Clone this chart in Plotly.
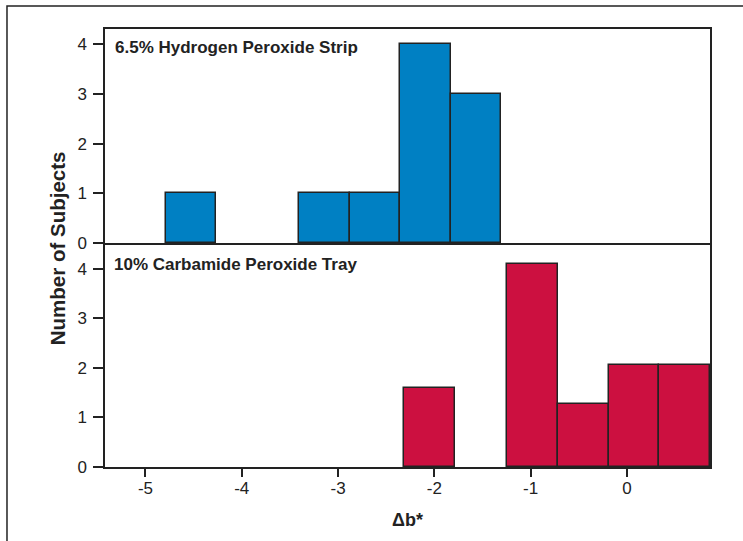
import plotly.graph_objects as go
from plotly.subplots import make_subplots

# Data
strip_left = [-4.79, -3.41, -2.88, -2.36, -1.83]
strip_right = [-4.27, -2.88, -2.36, -1.83, -1.31]
strip_counts = [1, 1, 1, 4, 3]

tray_left = [-2.32, -1.25, -0.72, -0.19, 0.335]
tray_right = [-1.79, -0.72, -0.19, 0.335, 0.862]
tray_counts = [1.6, 4.1, 1.27, 2.06, 2.06]

x_ticks = [-5, -4, -3, -2, -1, 0]
x_tick_labels = ["-5", "-4", "-3", "-2", "-1", "0"]
y_ticks = [0, 1, 2, 3, 4]

label_strip = "6.5% Hydrogen Peroxide Strip"
label_tray = "10% Carbamide Peroxide Tray"

BLUE = "rgb(0,128,195)"
RED = "rgb(204,16,64)"
INK = "#222222"
FONT = "Liberation Sans, Arial, sans-serif"

fig = make_subplots(rows=2, cols=1, shared_xaxes=True, vertical_spacing=0,
                    row_heights=[214, 224])

def add_bars(left, right, counts, color, row):
    centers = [(a + b) / 2 for a, b in zip(left, right)]
    widths = [b - a for a, b in zip(left, right)]
    fig.add_trace(go.Bar(x=centers, y=counts, width=widths,
                         marker=dict(color=color, line=dict(color=INK, width=1.5)),
                         showlegend=False, hoverinfo="skip"), row=row, col=1)

add_bars(strip_left, strip_right, strip_counts, BLUE, 1)
add_bars(tray_left, tray_right, tray_counts, RED, 2)

xr = [-5.42, 0.862]
axis_common = dict(showline=True, linecolor=INK, linewidth=1.5,
                   ticks="outside", tickcolor=INK, tickwidth=1.5,
                   showgrid=False, zeroline=False,
                   tickfont=dict(family=FONT, size=17, color=INK))

fig.update_xaxes(range=xr, tickvals=x_ticks, ticktext=x_tick_labels, ticklen=8,
                 ticklabelstandoff=-3, **axis_common)
fig.update_xaxes(showticklabels=False, ticks="", mirror=True, row=1, col=1)
fig.update_xaxes(mirror=False, row=2, col=1)
fig.update_yaxes(tickvals=y_ticks, ticklen=10, mirror=True, ticklabelstandoff=3, **axis_common)
fig.update_yaxes(range=[0, 4.31], row=1, col=1)
fig.update_yaxes(range=[0, 4.52], row=2, col=1)

fig.add_annotation(text="<b>" + label_strip + "</b>", xref="paper", yref="paper",
                   x=0.013, y=0.957, xanchor="left", yanchor="middle", showarrow=False,
                   font=dict(family=FONT, size=17, color=INK))
fig.add_annotation(text="<b>" + label_tray + "</b>", xref="paper", yref="paper",
                   x=0.0116, y=0.462, xanchor="left", yanchor="middle", showarrow=False,
                   font=dict(family=FONT, size=17, color=INK))
fig.add_annotation(text="<b>Number of Subjects</b>", xref="paper", yref="paper",
                   x=-0.079, y=0.5, xanchor="center", yanchor="middle", textangle=-90,
                   showarrow=False, font=dict(family=FONT, size=20.5, color=INK))
fig.add_annotation(text="<b>Δb*</b>", xref="paper", yref="paper",
                   x=0.5, y=-0.121, xanchor="center", yanchor="middle",
                   showarrow=False, font=dict(family=FONT, size=18, color=INK))

# outer frame
fig.add_shape(type="rect", xref="paper", yref="paper", x0=-0.162, x1=1.2, y0=-0.3, y1=1.0525,
              line=dict(color=INK, width=1.5), layer="below")

fig.update_layout(width=743, height=541, margin=dict(l=105, r=33, t=29, b=74),
                  plot_bgcolor="white", paper_bgcolor="white", bargap=0,
                  font=dict(family=FONT, color=INK))

fig.write_html("out.html", config={"displayModeBar": False},
               post_script="document.body.style.margin='0px';")
